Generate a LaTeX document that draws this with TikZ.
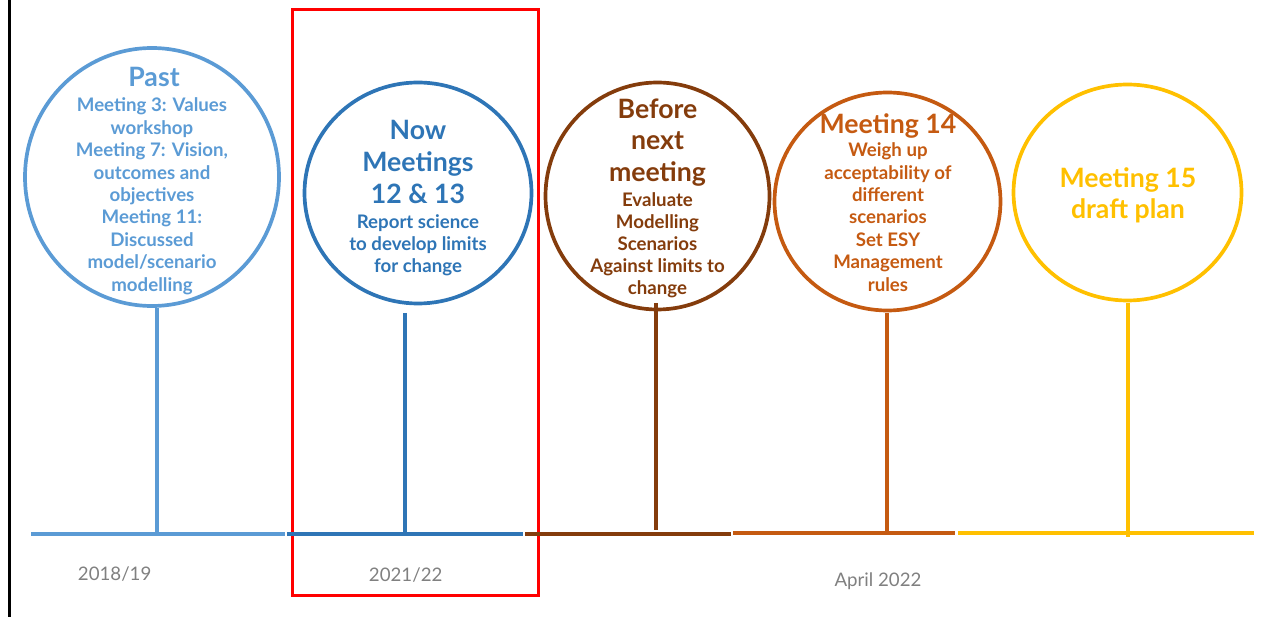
\documentclass[tikz,border=0pt]{standalone}
\usepackage{fontspec}
\setmainfont{Lato}
\usetikzlibrary{shapes.geometric}

\definecolor{pastblue}{HTML}{5B9BD5}
\definecolor{nowblue}{HTML}{2E75B6}
\definecolor{nextbrown}{HTML}{843C0C}
\definecolor{mtgorange}{HTML}{C55A11}
\definecolor{plangold}{HTML}{FFC000}
\definecolor{yeargray}{HTML}{808080}
\definecolor{framered}{HTML}{FF0000}

% multi-line nodes sit on the baseline of their last line
\tikzset{
  phase/.style={ellipse, draw, line width=3.7pt, inner sep=0pt},
  stem/.style={line width=3.3pt},
  axis/.style={line width=4pt},
  head/.style={font=\bfseries\fontsize{26.67}{32}\selectfont, align=center, anchor=base, inner sep=0pt},
  body/.style={font=\bfseries\fontsize{18.67}{22.4}\selectfont, align=center, anchor=base, inner sep=0pt},
  yearlabel/.style={font=\fontsize{18.67}{22.4}\selectfont, text=yeargray, anchor=base, inner sep=0pt},
  nowframe/.style={draw=framered, line width=3pt},
}

\begin{document}
\begin{tikzpicture}[x=1pt, y=-1pt]
\useasboundingbox (0,0) rectangle (1283,617);

% left edge rule
\coordinate (edge-top) at (9.7,0);
\coordinate (edge-bot) at (9.7,617);
\draw[line width=2.6pt] (edge-top) -- (edge-bot);

% highlight frame around the current phase
\draw[nowframe] (292.5,9.5) rectangle (538.5,595.5);

% phase circles
\node[phase, draw=pastblue,  minimum width=254pt, minimum height=258pt] (past)   at (152,177)     {};
\node[phase, draw=nowblue,   minimum width=227pt, minimum height=221pt] (now)    at (418,193)     {};
\node[phase, draw=nextbrown, minimum width=224pt, minimum height=227pt] (before) at (657.5,196)   {};
\node[phase, draw=mtgorange, minimum width=226pt, minimum height=218pt] (m14)    at (887.5,201.5) {};
\node[phase, draw=plangold,  minimum width=228pt, minimum height=216pt] (m15)    at (1127.5,192.5){};

% circle texts
\node[head, text=pastblue] (past-title) at (154,87) {Past};
\node[body, text=pastblue] (past-text) at (152,291.2)
  {Meeting 3: Values\\workshop\\Meeting 7: Vision,\\outcomes and\\objectives\\Meeting 11:\\Discussed\\model/scenario\\modelling};

\node[head, text=nowblue] (now-title) at (418,203.3)
  {Now\\Meetings\\12 \& 13};
\node[body, text=nowblue] (now-text) at (418,272.9)
  {Report science\\to develop limits\\for change};

\node[head, text=nextbrown, font=\bfseries\fontsize{26.67}{31.7}\selectfont] (before-title) at (657.5,181.7)
  {Before\\next\\meeting};
\node[body, text=nextbrown, font=\bfseries\fontsize{18.67}{21.95}\selectfont] (before-text) at (657.5,294.5)
  {Evaluate\\Modelling\\Scenarios\\Against limits to\\change};

\node[head, text=mtgorange] (m14-title) at (888,133.3) {Meeting 14};
\node[body, text=mtgorange] (m14-text) at (888,291.1)
  {Weigh up\\acceptability of\\different\\scenarios\\Set ESY\\Management\\rules};

\node[head, text=plangold, font=\bfseries\fontsize{26.67}{31}\selectfont] (m15-title) at (1128,218.3)
  {Meeting 15\\draft plan};

% timeline segments
\coordinate (past-a)   at (31,533.5);   \coordinate (past-b)   at (285,533.5);
\coordinate (now-a)    at (287,533.5);  \coordinate (now-b)    at (523,533.5);
\coordinate (before-a) at (525,534);    \coordinate (before-b) at (731,534);
\coordinate (m14-a)    at (733,533);    \coordinate (m14-b)    at (955,533);
\coordinate (m15-a)    at (958,533);    \coordinate (m15-b)    at (1254,533);
\draw[axis, pastblue]  (past-a)   -- (past-b);
\draw[axis, nowblue]   (now-a)    -- (now-b);
\draw[axis, nextbrown] (before-a) -- (before-b);
\draw[axis, mtgorange] (m14-a)    -- (m14-b);
\draw[axis, plangold]  (m15-a)    -- (m15-b);

% stems from circles down to the timeline
\coordinate (past-s1)   at (157,308);   \coordinate (past-s2)   at (157,533.5);
\coordinate (now-s1)    at (405,313);   \coordinate (now-s2)    at (405,533.5);
\coordinate (before-s1) at (656,303);   \coordinate (before-s2) at (656,529.5);
\coordinate (m14-s1)    at (887,313);   \coordinate (m14-s2)    at (887,531);
\coordinate (m15-s1)    at (1128,303);  \coordinate (m15-s2)    at (1128,537);
\draw[stem, pastblue]  (past-s1)   -- (past-s2);
\draw[stem, nowblue]   (now-s1)    -- (now-s2);
\draw[stem, nextbrown] (before-s1) -- (before-s2);
\draw[stem, mtgorange] (m14-s1)    -- (m14-s2);
\draw[stem, plangold]  (m15-s1)    -- (m15-s2);

% period labels
\node[yearlabel] (year-past) at (114.7,580)   {2018/19};
\node[yearlabel] (year-now)  at (405.7,581.7) {2021/22};
\node[yearlabel] (year-apr)  at (878,586)     {April 2022};
\end{tikzpicture}
\end{document}
